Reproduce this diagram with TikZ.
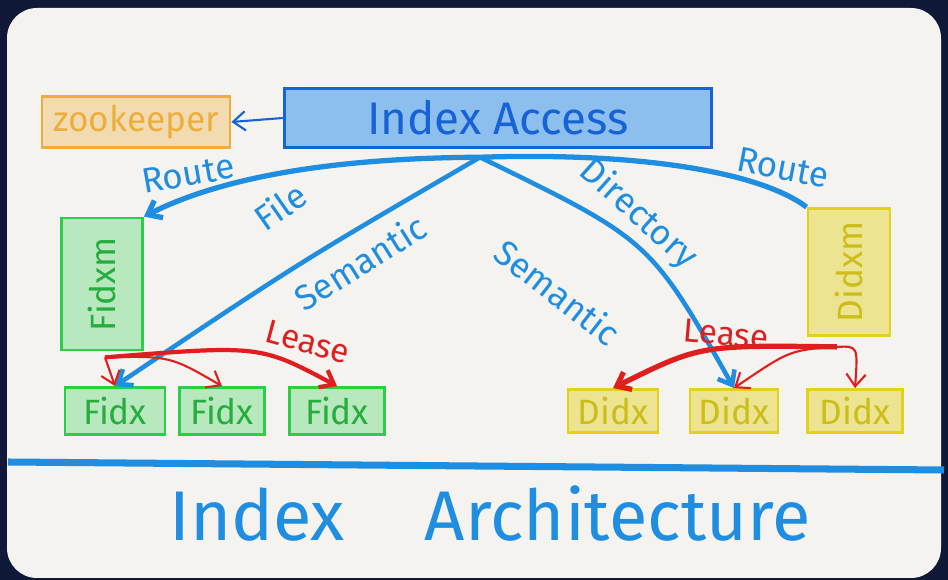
\documentclass[tikz,border=0pt]{standalone}
\usepackage{fontspec}
\setmainfont{Fira Sans}
\usetikzlibrary{arrows.meta,calc}

\definecolor{navy}{HTML}{101838}
\definecolor{paper}{HTML}{F4F3F0}
\definecolor{ink}{HTML}{1F8DE0}
\definecolor{accblue}{HTML}{1763D6}
\definecolor{accfill}{HTML}{8CBFEE}
\definecolor{zkorange}{HTML}{EEAE3A}
\definecolor{fgreen}{HTML}{2CCD48}
\definecolor{dyellow}{HTML}{E3D21C}
\definecolor{leasered}{HTML}{DF1F1F}

\begin{document}
\begin{tikzpicture}[x=0.02cm, y=-0.02cm, >={Straight Barb[length=7pt,width=11pt]},
  box/.style={draw, line width=1.6pt, inner sep=0pt},
  fbox/.style={box, draw=fgreen, fill=fgreen!30!paper, text=fgreen!85!black,
    font=\fontsize{20}{24}\selectfont},
  dbox/.style={box, draw=dyellow, fill=dyellow!45!paper, text=dyellow!90!black,
    font=\fontsize{20}{24}\selectfont},
  route/.style={draw=ink, line width=3pt},
  sem/.style={draw=ink, line width=2.6pt},
  lease/.style={draw=leasered, line width=1.2pt, ->},
  blab/.style={text=ink, inner sep=0pt, font=\fontsize{20}{24}\selectfont},
  rlab/.style={text=leasered, inner sep=0pt, font=\fontsize{19}{23}\selectfont}]

% background and card
\fill[navy] (0,0) rectangle (948,580);
\fill[paper, rounded corners=0.6cm] (7,8) rectangle (941,578);
\useasboundingbox (0,0) rectangle (948,580);

% top row
\node[box, draw=accblue, fill=accfill, line width=2pt, text=accblue,
  minimum width=8.54cm, minimum height=1.18cm,
  font=\fontsize{26}{30}\selectfont] (acc) at (498,118) {Index Access};
\node[box, draw=zkorange, fill=zkorange!35!paper, text=zkorange,
  minimum width=3.76cm, minimum height=1.02cm,
  font=\fontsize{20}{24}\selectfont] (zk) at (136,122) {zookeeper};
\draw[draw=accblue, line width=1.2pt, ->] (acc.west) -- (zk.east);

% apex below Index Access
\coordinate (top) at ($(acc.south)+(-18,8)$);

% masters
\node[fbox, minimum width=1.62cm, minimum height=2.64cm] (fm) at (102,284) {};
\node[fgreen!85!black, rotate=90, font=\fontsize{20}{24}\selectfont] at (fm) {Fidxm};
\node[dbox, minimum width=1.64cm, minimum height=2.54cm] (dm) at (849,272) {};
\node[dyellow!90!black, rotate=90, font=\fontsize{20}{24}\selectfont] at (dm) {Didxm};

% file index nodes
\node[fbox, minimum width=2.0cm, minimum height=0.94cm] (f1) at (115,411) {Fidx};
\node[fbox, minimum width=1.7cm, minimum height=0.94cm] (f2) at (222,411) {Fidx};
\node[fbox, minimum width=1.9cm, minimum height=0.94cm] (f3) at (337,411) {Fidx};

% directory index nodes
\node[dbox, minimum width=1.8cm, minimum height=0.86cm] (d1) at (613,411) {Didx};
\node[dbox, minimum width=1.76cm, minimum height=0.86cm] (d2) at (734,411) {Didx};
\node[dbox, minimum width=1.9cm, minimum height=0.86cm] (d3) at (855,411) {Didx};

% routes
\draw[route, ->] (top) .. controls (330,158) and (220,178) .. (fm.north east);
\draw[route] (top) .. controls (640,152) and (760,172) .. (dm.north west);
\node[blab, rotate=10] at (188,174) {Route};
\node[blab, rotate=-11] at (783,168) {Route};

% semantics
\draw[sem, ->] (top) .. controls (300,262) .. (f1.north);
\draw[sem, ->] (top) .. controls (650,240) .. (d2.north);
\node[blab, rotate=35] at (280,206) {File};
\node[blab, rotate=32] at (360,262) {Semantic};
\node[blab, rotate=-42] at (638,214) {Directory};
\node[blab, rotate=-38] at (558,292) {Semantic};

% leases
\coordinate (ls) at ($(fm.south)+(3,6)$);
\draw[lease] (ls) -- (f1.north);
\draw[lease] (ls) .. controls (170,356) .. (f2.north);
\draw[lease, line width=2.4pt] (ls) .. controls (260,345) .. (f3.north);
\node[rlab, rotate=-15] at (308,342) {Lease};

\coordinate (rs) at ($(dm.south)+(-12,10)$);
\draw[lease, line width=3pt] (rs) .. controls (700,345) .. (d1.north);
\draw[lease] (rs) .. controls (790,350) .. (d2.north);
\draw[lease] (rs) .. controls (858,346) .. (d3.north);
\node[rlab, rotate=-5] at (726,334) {Lease};

% divider and title
\draw[ink, line width=4pt] (8,462) -- (944,470);
\node[text=ink, font=\fontsize{40}{46}\selectfont] (title) at (490,514)
  {Index\hspace{1.6cm}Architecture};

\end{tikzpicture}
\end{document}
